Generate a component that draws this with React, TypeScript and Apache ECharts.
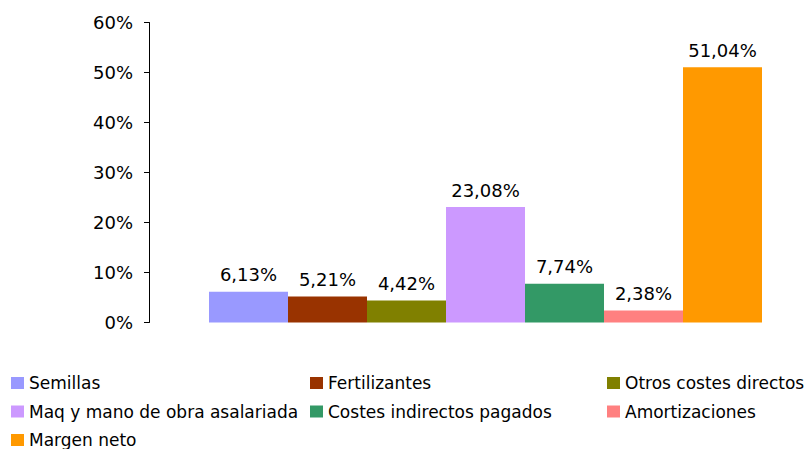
import React, { useEffect, useRef } from "react";
import * as echarts from "echarts";

const categories = ["Semillas", "Fertilizantes", "Otros costes directos", "Maq y mano de obra asalariada", "Costes indirectos pagados", "Amortizaciones", "Margen neto"];
const values = [6.13, 5.21, 4.42, 23.08, 7.74, 2.38, 51.04];
const colors = ["#9999FF", "#993300", "#808000", "#CC99FF", "#339966", "#FF8080", "#FF9900"];
const yTicks = [0, 10, 20, 30, 40, 50, 60];
const legendColumns = [
  ["Semillas", "Maq y mano de obra asalariada", "Margen neto"],
  ["Fertilizantes", "Costes indirectos pagados"],
  ["Otros costes directos", "Amortizaciones"],
];

export default function App() {
  const ref = useRef<HTMLDivElement>(null);
  useEffect(() => {
    if (!ref.current) return;
    const chart = echarts.init(ref.current, null, { renderer: "svg" });
    const font = "DejaVu Sans, Verdana, sans-serif";
    const legendLefts = [11, 310, 607];
    chart.setOption({
      animation: false,
      backgroundColor: "#ffffff",
      grid: { left: 170, top: 22.5, width: 631, height: 300, containLabel: false },
      xAxis: {
        type: "category",
        data: [""],
        show: false,
      },
      yAxis: {
        type: "value",
        offset: 21,
        min: yTicks[0],
        max: yTicks[yTicks.length - 1],
        interval: 10,
        splitLine: { show: false },
        axisLine: { show: true, lineStyle: { color: "#000", width: 1 } },
        axisTick: { show: true, inside: false, length: 5, lineStyle: { color: "#000" } },
        axisLabel: {
          margin: 16,
          color: "#000",
          fontFamily: font,
          fontSize: 18,
          formatter: (v: number) => `${v}%`,
        },
      },
      legend: legendColumns.map((col, i) => ({
        orient: "vertical",
        left: legendLefts[i],
        top: 374,
        padding: 0,
        itemGap: 10.5,
        itemWidth: 13,
        itemHeight: 12,
        icon: "rect",
        data: col,
        selectedMode: false,
        textStyle: { fontFamily: font, fontSize: 17, lineHeight: 18, color: "#000" },
      })),
      series: categories.map((name, i) => ({
        name,
        type: "bar",
        data: [values[i]],
        barWidth: 79,
        barGap: "0%",
        itemStyle: { color: colors[i] },
        label: {
          show: true,
          position: "top",
          distance: 8,
          color: "#000",
          fontFamily: font,
          fontSize: 18,
          formatter: (p: any) => `${Number(p.value).toFixed(2).replace(".", ",")}%`,
        },
      })),
    });
    return () => chart.dispose();
  }, []);
  return <div ref={ref} style={{ width: 810, height: 449, position: "absolute", left: 0, top: 0 }} />;
}
